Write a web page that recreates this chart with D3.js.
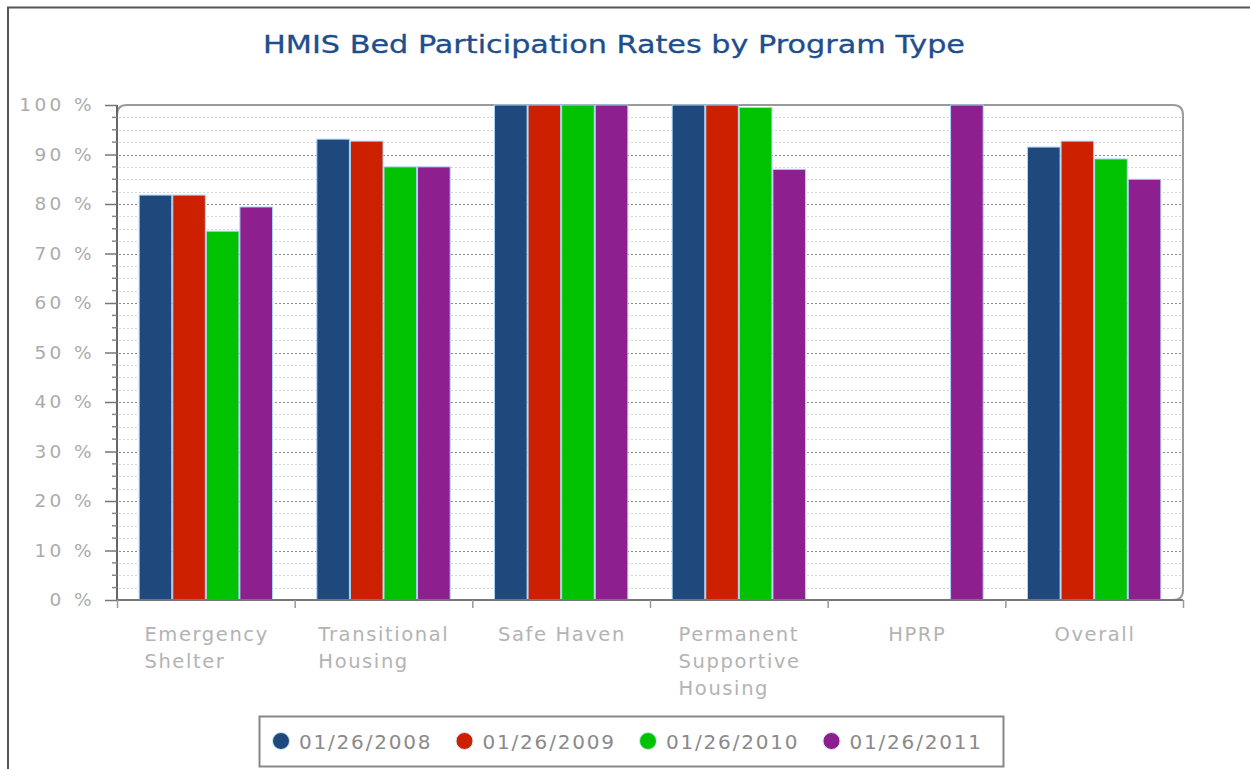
<!DOCTYPE html>
<html><head><meta charset="utf-8">
<script src="https://cdn.jsdelivr.net/npm/d3@7"></script>
<style>body{margin:0;background:#fff;}svg{display:block;}</style>
</head><body>
<svg id="c" width="1250" height="769"></svg>
<script>
const categories = [["Emergency","Shelter"],["Transitional","Housing"],["Safe Haven"],["Permanent","Supportive","Housing"],["HPRP"],["Overall"]];
const series = ["01/26/2008","01/26/2009","01/26/2010","01/26/2011"];
const colors = ["#1f487c","#cc2000","#00c200","#8e1f8e"];
const v2008 = [81.8, 93.1, 100, 100, null, 91.5];
const v2009 = [81.8, 92.7, 100, 100, null, 92.7];
const v2010 = [74.5, 87.5, 100, 99.5, null, 89.1];
const v2011 = [79.4, 87.5, 100, 87.0, 100, 85.0];
const values = [v2008, v2009, v2010, v2011];
const yTicks = [0,10,20,30,40,50,60,70,80,90,100];
const title = "HMIS Bed Participation Rates by Program Type";

const svg = d3.select("#c");
const L = 117, R = 1183, T = 105, B = 600;
const font = "'DejaVu Sans', Verdana, sans-serif";

// outer frame
svg.append("path").attr("d","M8,1300 V7.5 H1300").attr("fill","none").attr("stroke","#555").attr("stroke-width",2);

svg.append("text").attr("x",614).attr("y",53).attr("text-anchor","middle")
  .attr("font-family",font).attr("font-size",25).attr("fill","#1f4e8c").attr("stroke","#1f4e8c").attr("stroke-width",0.3)
  .attr("textLength",702).attr("lengthAdjust","spacingAndGlyphs").text(title);

const x = d3.scaleBand().domain(d3.range(categories.length)).range([L,R]).paddingInner(0).paddingOuter(0);
const bw = x.bandwidth();
const xs = d3.scaleBand().domain(series).range([bw*0.122, bw*0.878]).padding(0);
const y = d3.scaleLinear().domain([0,100]).range([B,T]);

// grid
const minor = d3.range(0,100.01,2.5).filter(v=>v%10!==0);
svg.append("g").selectAll("line").data(minor).join("line")
  .attr("x1",L+2).attr("x2",R-2).attr("y1",d=>Math.round(y(d))+0.5).attr("y2",d=>Math.round(y(d))+0.5)
  .attr("stroke","#d6d6d6").attr("stroke-dasharray","2,2");
svg.append("g").selectAll("line").data(yTicks.filter(v=>v>0&&v<100)).join("line")
  .attr("x1",L+2).attr("x2",R-2).attr("y1",d=>Math.round(y(d))+0.5).attr("y2",d=>Math.round(y(d))+0.5)
  .attr("stroke","#8a8a8a").attr("stroke-dasharray","2,2");

// frame top/right
svg.append("path").attr("d",`M${L},${T+10} Q${L},${T} ${L+10},${T} H${R-10} Q${R},${T} ${R},${T+10} V${B-10} Q${R},${B} ${R-10},${B}`)
  .attr("fill","none").attr("stroke","#9a9a9a").attr("stroke-width",2);

// bars
series.forEach((s,si)=>{
  svg.append("g").selectAll("rect").data(values[si].map((v,i)=>({v,i})).filter(d=>d.v!=null)).join("rect")
    .attr("x",d=>x(d.i)+xs(s)+0.5).attr("width",xs.bandwidth()-1)
    .attr("y",d=>y(d.v)).attr("height",d=>B-y(d.v))
    .attr("fill",colors[si]).attr("stroke","#a9d3f5").attr("stroke-width",1);
});

// y axis
const yAxis = d3.axisLeft(y).tickValues(yTicks).tickSize(12).tickPadding(10).tickFormat(d=>d+" %");
const ga = svg.append("g").attr("transform",`translate(${L},0)`).call(yAxis);
ga.select(".domain").attr("stroke","#666").attr("stroke-width",2).attr("d",`M0,${T} V${B}`);
ga.selectAll(".tick line").attr("stroke","#777").attr("stroke-width",1.5);
ga.selectAll(".tick text").attr("font-family",font).attr("font-size",18.5).attr("letter-spacing",3.4).attr("fill","#ababab");
svg.append("g").selectAll("line").data(minor).join("line")
  .attr("x1",L-5).attr("x2",L).attr("y1",d=>y(d)).attr("y2",d=>y(d)).attr("stroke","#888").attr("stroke-width",1.5);

// x axis
const xb = d3.scaleLinear().domain([0,categories.length]).range([L,R]);
const xAxis = d3.axisBottom(xb).ticks(categories.length).tickSize(8).tickFormat("");
const gx = svg.append("g").attr("transform",`translate(0,${B})`).call(xAxis);
gx.select(".domain").attr("stroke","#777").attr("stroke-width",2).attr("d",`M${L},0 H${R}`);
gx.selectAll(".tick line").attr("stroke","#999").attr("stroke-width",1.5);

categories.forEach((lines,i)=>{
  const g = svg.append("g");
  const t = g.append("text").attr("font-family",font).attr("font-size",19.5).attr("letter-spacing",1.6).attr("fill","#b3b3b3");
  lines.forEach((ln,k)=>t.append("tspan").attr("x",0).attr("y",641+k*27).text(ln));
  const w = t.node().getBBox().width - 1.6;
  g.attr("transform",`translate(${x(i)+bw/2-w/2},0)`);
});

// legend
svg.append("rect").attr("x",259.5).attr("y",716.5).attr("width",744).attr("height",50)
  .attr("fill","#fff").attr("stroke","#888").attr("stroke-width",2);
const lg = svg.append("g").selectAll("g").data(series).join("g")
  .attr("transform",(d,i)=>`translate(${281+i*183.5},741)`);
lg.append("circle").attr("r",8.5).attr("fill",(d,i)=>colors[i]).attr("stroke","#cfe6f8").attr("stroke-width",1);
lg.append("text").attr("x",18).attr("y",7.5).attr("font-family",font).attr("font-size",20).attr("letter-spacing",1.8).attr("fill","#8a8a8a").text(d=>d);
</script>
</body></html>
